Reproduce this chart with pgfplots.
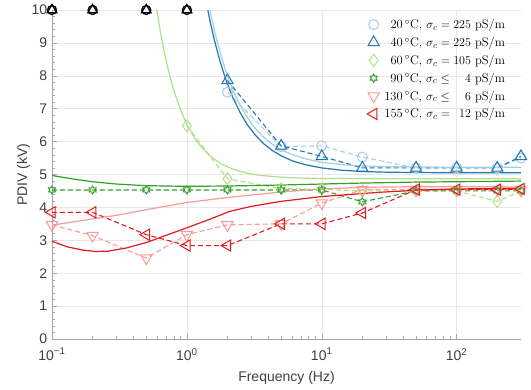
\documentclass[border=0pt]{standalone}
\usepackage{fontspec}
\usepackage{pgfplots}
\pgfplotsset{compat=1.18}
\newfontfamily\helv{Liberation Sans}
\definecolor{c1}{HTML}{A6CEE3}
\definecolor{c2}{HTML}{1F78B4}
\definecolor{c3}{HTML}{B2DF8A}
\definecolor{c4}{HTML}{33A02C}
\definecolor{c5}{HTML}{FB9A99}
\definecolor{c6}{HTML}{E31A1C}
\pgfdeclareplotmark{hexagram}{%
  \pgfpathmoveto{\pgfpointpolar{90}{\pgfplotmarksize}}%
  \pgfpathlineto{\pgfpointpolar{120}{0.577\pgfplotmarksize}}%
  \pgfpathlineto{\pgfpointpolar{150}{\pgfplotmarksize}}%
  \pgfpathlineto{\pgfpointpolar{180}{0.577\pgfplotmarksize}}%
  \pgfpathlineto{\pgfpointpolar{210}{\pgfplotmarksize}}%
  \pgfpathlineto{\pgfpointpolar{240}{0.577\pgfplotmarksize}}%
  \pgfpathlineto{\pgfpointpolar{270}{\pgfplotmarksize}}%
  \pgfpathlineto{\pgfpointpolar{300}{0.577\pgfplotmarksize}}%
  \pgfpathlineto{\pgfpointpolar{330}{\pgfplotmarksize}}%
  \pgfpathlineto{\pgfpointpolar{0}{0.577\pgfplotmarksize}}%
  \pgfpathlineto{\pgfpointpolar{30}{\pgfplotmarksize}}%
  \pgfpathlineto{\pgfpointpolar{60}{0.577\pgfplotmarksize}}%
  \pgfpathclose\pgfusepathqstroke}
\begin{document}
\begin{tikzpicture}
\path[use as bounding box] (-52pt,-51pt) rectangle (479pt,339pt);
\begin{axis}[
  scale only axis, width=469pt, height=329pt,
  xmode=log, xmin=0.1, xmax=300, ymin=0, ymax=10,
  xtick={0.1,1,10,100},
  xticklabels={10\textsuperscript{\char"2212 1},10\textsuperscript{0},10\textsuperscript{1},10\textsuperscript{2}},
  ytick={0,1,...,10}, minor y tick num=4,
  grid=major, major grid style={black!9, line width=0.5pt},
  axis x line*=bottom, axis y line*=left,
  axis line style={black!35, line width=0.6pt},
  tick align=inside, major tick length=5pt, minor tick length=3pt,
  every tick/.style={black!35, line width=0.5pt},
  tick label style={font=\helv\fontsize{14}{16}\selectfont, text=black!75, inner sep=0.5pt},
  xticklabel style={yshift=-8.5pt},
  yticklabel style={xshift=-4.2pt},
  /pgf/number format/assume math mode=true,
  xlabel={Frequency (Hz)}, ylabel={PDIV (kV)},
  label style={font=\helv\fontsize{14}{16}\selectfont, text=black!75},
  xlabel style={at={(axis description cs:0.5,-0.1307)}, anchor=base},
  ylabel style={at={(axis description cs:-0.0533,0.5)}, anchor=base},
  clip=false,
  legend style={at={(axis description cs:0.977,0.985)}, anchor=north east, draw=none, fill=none,
    font=\fontsize{12.5}{15}\selectfont, row sep=3pt,
    /tikz/every odd column/.append style={column sep=3pt}},
  legend cell align=right,
  legend image code/.code={\draw[#1] plot coordinates {(0.3cm,0cm)};},
  dl/.style={line width=1.1pt, dash pattern=on 5pt off 3pt},
  fl/.style={line width=1.2pt, forget plot, no marks},
]
% measured data
\addplot[c1, dl, mark=o, mark size=5pt, mark options={solid, line width=1pt}] coordinates {(2,7.5)(5,5.85)(10,5.87)(20,5.53)(50,5.2)(100,5.2)(200,5.2)(300,5.5)};
\addlegendentry{20\,$^\circ$C, $\sigma_c = 225$ pS/m}
\addplot[c2, dl, mark=triangle, mark size=6.5pt, mark options={solid, line width=1pt}] coordinates {(2,7.86)(5,5.87)(10,5.55)(20,5.2)(50,5.2)(100,5.2)(200,5.2)(300,5.55)};
\addlegendentry{40\,$^\circ$C, $\sigma_c = 225$ pS/m}
\addplot[c3, dl, mark=diamond, mark size=6pt, mark options={solid, line width=1pt}] coordinates {(1,6.48)(2,4.87)(5,4.57)(10,4.55)(20,4.5)(50,4.5)(100,4.5)(200,4.18)(300,4.5)};
\addlegendentry{60\,$^\circ$C, $\sigma_c = 105$ pS/m}
\addplot[c4, dl, mark=hexagram, mark size=4pt, mark options={solid, line width=1pt}] coordinates {(0.1,4.53)(0.2,4.53)(0.5,4.53)(1,4.53)(2,4.53)(5,4.53)(10,4.53)(20,4.17)(50,4.5)(100,4.5)(200,4.5)(300,4.5)};
\addlegendentry{90\,$^\circ$C, $\sigma_c \leq \phantom{22}4$ pS/m}
\addplot[c5, dl, mark=triangle, mark size=6.5pt, mark options={solid, line width=1pt, rotate=180}] coordinates {(0.1,3.47)(0.2,3.14)(0.5,2.46)(1,3.17)(2,3.47)(5,3.5)(10,4.13)(20,4.54)(50,4.55)(100,4.55)(200,4.55)(300,4.55)};
\addlegendentry{130\,$^\circ$C, $\sigma_c \leq \phantom{22}6$ pS/m}
\addplot[c6, dl, mark=triangle, mark size=6.5pt, mark options={solid, line width=1pt, rotate=90}] coordinates {(0.1,3.85)(0.2,3.85)(0.5,3.17)(1,2.84)(2,2.84)(5,3.5)(10,3.5)(20,3.83)(50,4.54)(100,4.54)(200,4.54)(300,4.56)};
\addlegendentry{155\,$^\circ$C, $\sigma_c = \phantom{2}12$ pS/m}
% breakdown markers
\addplot[black, only marks, mark=o, mark size=4.5pt, mark options={line width=1.3pt}, forget plot] coordinates {(0.1,10)(0.2,10)(0.5,10)(1,10)};
\addplot[black, only marks, mark=triangle, mark size=5.5pt, mark options={line width=1.3pt}, forget plot] coordinates {(0.1,10)(0.2,10)(0.5,10)(1,10)};
% fitted curves
\addplot[c1, fl] coordinates {(1.48,10.0)(1.6,9.37)(1.75,8.76)(1.9,8.27)(2.0,8.0)(2.2,7.56)(2.5,7.08)(2.8,6.74)(3.2,6.41)(3.7,6.14)(4.3,5.92)(5,5.75)(6,5.61)(7.5,5.48)(10,5.37)(14,5.30)(20,5.26)(30,5.24)(50,5.23)(100,5.22)(300,5.22)};
\addplot[c2, fl] coordinates {(1.43,9.99)(1.5,9.58)(1.6,9.08)(1.75,8.48)(1.9,8.01)(2.0,7.75)(2.2,7.32)(2.5,6.86)(2.8,6.52)(3.2,6.21)(3.7,5.94)(4.3,5.73)(5,5.57)(6,5.42)(7.5,5.30)(10,5.20)(14,5.13)(20,5.09)(30,5.07)(50,5.06)(100,5.05)(300,5.05)};
\addplot[c3, fl] coordinates {(0.598,10.0)(0.65,9.12)(0.7,8.48)(0.75,7.97)(0.8,7.56)(0.9,6.95)(1.0,6.52)(1.15,6.08)(1.3,5.80)(1.5,5.55)(1.8,5.32)(2.2,5.16)(2.8,5.04)(3.5,4.97)(5,4.92)(7,4.89)(10,4.88)(30,4.87)(100,4.87)(300,4.87)};
\addplot[c4, fl] coordinates {(0.1,4.97)(0.15,4.85)(0.2,4.78)(0.3,4.71)(0.5,4.66)(1,4.64)(2,4.65)(5,4.68)(10,4.71)(20,4.74)(50,4.77)(100,4.78)(300,4.8)};
\addplot[c5, fl] coordinates {(0.1,3.46)(0.2,3.65)(0.3,3.76)(0.5,3.93)(1,4.15)(2,4.3)(5,4.47)(10,4.56)(20,4.61)(50,4.63)(100,4.63)(300,4.62)};
\addplot[c6, fl] coordinates {(0.1,2.97)(0.13,2.8)(0.17,2.7)(0.21,2.66)(0.26,2.67)(0.35,2.76)(0.5,2.93)(0.7,3.15)(1,3.38)(1.5,3.65)(2.08,3.88)(3,4.03)(4.9,4.18)(10,4.33)(27,4.46)(50,4.52)(100,4.56)(300,4.58)};
\end{axis}
\end{tikzpicture}
\end{document}
